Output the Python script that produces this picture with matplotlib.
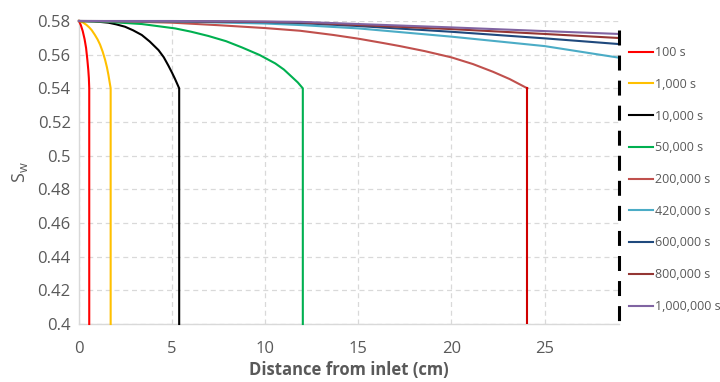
import matplotlib
matplotlib.use("Agg")
import matplotlib.pyplot as plt

plt.rcParams['font.family'] = ['Open Sans', 'DejaVu Sans']

labels = ["100 s", "1,000 s", "10,000 s", "50,000 s", "200,000 s",
          "420,000 s", "600,000 s", "800,000 s", "1,000,000 s"]
colors = ["#FF0000", "#FFC000", "#000000", "#00B050", "#C0504D",
          "#4BACC6", "#1F497D", "#943634", "#8064A2"]

x_100 = [0.0, 0.1, 0.2, 0.3, 0.38, 0.45, 0.50, 0.53, 0.55, 0.55]
y_100 = [0.58, 0.5775, 0.5740, 0.5692, 0.5640, 0.5568, 0.5508, 0.5460, 0.54, 0.40]

x_1000 = [0.0, 0.2, 0.4, 0.55, 0.68, 0.85, 1.0, 1.13, 1.27, 1.40, 1.50, 1.58, 1.64, 1.70, 1.70]
y_1000 = [0.58, 0.5792, 0.5777, 0.5762, 0.5746, 0.5718, 0.5690, 0.5660, 0.5618, 0.5570,
          0.5525, 0.5480, 0.5440, 0.54, 0.40]

x_10000 = [0.0, 0.8, 1.58, 2.0, 2.47, 2.9, 3.37, 3.8, 4.27, 4.55, 4.80, 5.0, 5.16, 5.30, 5.38, 5.38]
y_10000 = [0.58, 0.5798, 0.579, 0.578, 0.5766, 0.5745, 0.5717, 0.5678, 0.5627, 0.5585,
           0.5535, 0.5492, 0.5455, 0.5420, 0.54, 0.40]

x_50000 = [0.0, 1.5, 3.37, 5.16, 6.0, 6.95, 7.9, 8.75, 9.7, 10.54, 11.0, 11.43, 11.75, 12.02, 12.02]
y_50000 = [0.58, 0.5795, 0.5782, 0.5756, 0.5737, 0.5711, 0.5680, 0.5643, 0.5598, 0.5548,
           0.5512, 0.5468, 0.5435, 0.54, 0.40]

x_200000 = [0.0, 2.5, 5.0, 7.5, 10.0, 11.88, 13.66, 15.0, 16.34, 17.23, 18.57, 20.0,
            21.16, 22.24, 23.13, 24.08]
y_200000 = [0.58, 0.5797, 0.579, 0.5775, 0.5758, 0.5742, 0.5717, 0.5695, 0.5669, 0.5651,
            0.5621, 0.5584, 0.5544, 0.5498, 0.5455, 0.54]
x_200000_front = [24.08, 24.08]
y_200000_front = [0.54, 0.40]

x_late = [0.0, 5.0, 10.0, 11.88, 15.0, 20.0, 25.0, 29.0]
y_420000 = [0.58, 0.5797, 0.5785, 0.5776, 0.5756, 0.5707, 0.5651, 0.5582]
y_600000 = [0.58, 0.5799, 0.5793, 0.5788, 0.5770, 0.5736, 0.5697, 0.5663]
y_800000 = [0.58, 0.5799, 0.5795, 0.5792, 0.5776, 0.5752, 0.5723, 0.5699]
y_1000000 = [0.58, 0.58, 0.5797, 0.5795, 0.5782, 0.5762, 0.5740, 0.5723]

outlet_x = [29.0, 29.0]
outlet_y = [0.5746, 0.40]

xticks = [0, 5, 10, 15, 20, 25]
yticks = [0.4, 0.42, 0.44, 0.46, 0.48, 0.5, 0.52, 0.54, 0.56, 0.58]
ytick_labels = ["0.4", "0.42", "0.44", "0.46", "0.48", "0.5", "0.52", "0.54", "0.56", "0.58"]

fig = plt.figure(figsize=(7.2, 3.82), dpi=100)
ax = fig.add_axes([79/720, 1-324/382, 540/720, 303/382])

series = [(x_100, y_100), (x_1000, y_1000), (x_10000, y_10000), (x_50000, y_50000),
          (x_200000, y_200000), (x_late, y_420000), (x_late, y_600000),
          (x_late, y_800000), (x_late, y_1000000)]
lines = []
for (xs, ys), c, lab in zip(series, colors, labels):
    ln, = ax.plot(xs, ys, color=c, lw=1.5, label=lab, zorder=3, clip_on=False,
                  solid_joinstyle="round")
    lines.append(ln)
ax.plot(x_200000_front, y_200000_front, color="#D00000", lw=1.5, zorder=3)

ax.plot(outlet_x, outlet_y, color="black", lw=2.2, dashes=(4.9, 3.3), zorder=4,
        clip_on=False)

ax.set_xlim(0, 29)
ax.set_ylim(0.4, 0.58)
ax.set_xticks(xticks)
ax.set_yticks(yticks)
ax.set_yticklabels(ytick_labels)
ax.grid(True, color="#d9d9d9", linestyle=(0, (4, 3)), lw=0.9)
ax.set_axisbelow(True)
for s in ["top", "right"]:
    ax.spines[s].set_visible(False)
for s in ["left", "bottom"]:
    ax.spines[s].set_color("#d9d9d9")
    ax.spines[s].set_linewidth(1.0)
ax.tick_params(axis="both", length=0, labelsize=12, labelcolor="#595959")
ax.tick_params(axis="x", pad=12)
ax.tick_params(axis="y", pad=6)

ax.set_xlabel("Distance from inlet (cm)", fontsize=12, fontweight="bold",
              color="#595959", labelpad=3)
ax.set_ylabel("S$_\\mathregular{w}$", fontsize=13, color="#595959", labelpad=5)

leg = fig.legend(handles=lines, labels=labels, loc="upper left",
                 bbox_to_anchor=(629/720, 1-46/382), frameon=False,
                 fontsize=9, labelspacing=1.5, handlelength=1.9,
                 handletextpad=0.2, borderaxespad=0, borderpad=0)
for t in leg.get_texts():
    t.set_color("#595959")

fig.savefig("out.png", dpi=100)
